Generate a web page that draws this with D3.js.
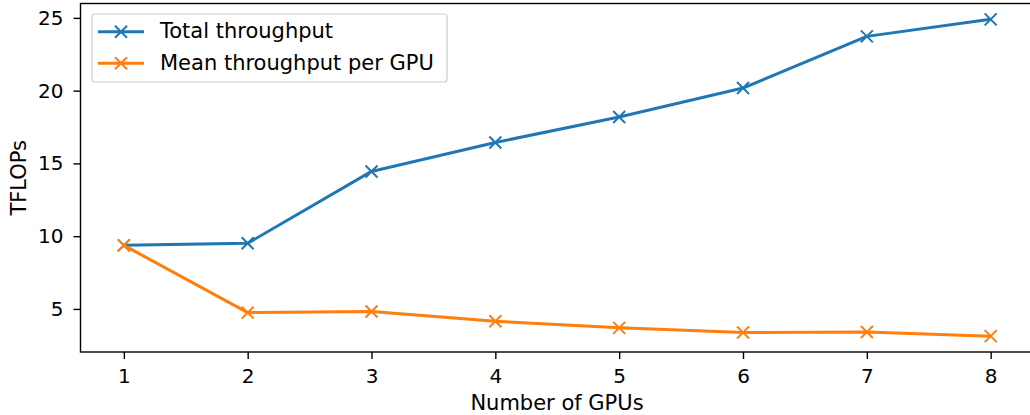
<!DOCTYPE html>
<html lang="en">
<head>
    <meta charset="UTF-8">
    <title>GPU throughput</title>
    <script src="https://d3js.org/d3.v7.min.js"></script>
    <style>
        body { margin: 0; background: white; }
        svg text { font-family: "DejaVu Sans"; font-size: 21px; fill: #000; }
        .axis text { font-size: 20px; }
        .axis path, .axis line { stroke: #000; stroke-width: 1.4; }
        .line { fill: none; stroke-width: 3; stroke-linejoin: round; }
        .marker { stroke-width: 2; }
    </style>
</head>
<body>
    <svg width="1030" height="415"></svg>
    <script>
        const gpus = [1, 2, 3, 4, 5, 6, 7, 8];
        const totalThroughput = [9.37, 9.51, 14.45, 16.44, 18.19, 20.18, 23.73, 24.9];
        const meanThroughput = [9.37, 4.75, 4.82, 4.15, 3.70, 3.38, 3.42, 3.13];
        const seriesNames = ["Total throughput", "Mean throughput per GPU"];
        const colors = ["#1f77b4", "#ff7f0e"];
        const yTicks = [5, 10, 15, 20, 25];

        const plot = {left: 80.5, right: 1034, top: 3.5, bottom: 352};

        const svg = d3.select("svg");

        // matplotlib-like 5% margins
        const xPad = (d3.max(gpus) - d3.min(gpus)) * 0.05;
        const allY = totalThroughput.concat(meanThroughput);
        const yPad = (d3.max(allY) - d3.min(allY)) * 0.05;

        const x = d3.scaleLinear()
            .domain([d3.min(gpus) - xPad, d3.max(gpus) + xPad])
            .range([plot.left, plot.right]);

        const y = d3.scaleLinear()
            .domain([d3.min(allY) - yPad, d3.max(allY) + yPad])
            .range([plot.bottom, plot.top]);

        svg.append("g")
            .attr("class", "axis")
            .attr("transform", `translate(0,${plot.bottom})`)
            .call(d3.axisBottom(x).tickValues(gpus).tickFormat(d3.format("d")).tickSizeOuter(0).tickSize(7))
            .call(g => g.select(".domain").remove())
            .call(g => g.selectAll(".tick text").attr("y", 31).attr("dy", 0));

        svg.append("g")
            .attr("class", "axis")
            .attr("transform", `translate(${plot.left},0)`)
            .call(d3.axisLeft(y).tickValues(yTicks).tickSizeOuter(0).tickSize(7).tickPadding(10))
            .call(g => g.select(".domain").remove());

        // frame
        svg.append("rect")
            .attr("x", plot.left)
            .attr("y", plot.top)
            .attr("width", plot.right - plot.left)
            .attr("height", plot.bottom - plot.top)
            .attr("fill", "none")
            .attr("stroke", "#000")
            .attr("stroke-width", 1.4);

        const series = [totalThroughput, meanThroughput];

        const line = d3.line()
            .x((d, i) => x(gpus[i]))
            .y(d => y(d));

        function drawX(g, cx, cy, color) {
            const s = 6;
            g.append("path")
                .attr("class", "marker")
                .attr("d", `M${cx - s},${cy - s}L${cx + s},${cy + s}M${cx - s},${cy + s}L${cx + s},${cy - s}`)
                .attr("stroke", color)
                .attr("fill", "none");
        }

        series.forEach((vals, k) => {
            svg.append("path")
                .datum(vals)
                .attr("class", "line")
                .attr("d", line)
                .attr("stroke", colors[k]);
            const mg = svg.append("g");
            vals.forEach((v, i) => drawX(mg, x(gpus[i]), y(v), colors[k]));
        });

        // legend
        const legend = svg.append("g");
        legend.append("rect")
            .attr("x", 92)
            .attr("y", 14)
            .attr("width", 355)
            .attr("height", 68)
            .attr("rx", 3)
            .attr("fill", "white")
            .attr("fill-opacity", 0.8)
            .attr("stroke", "#ccc")
            .attr("stroke-width", 1.2);

        seriesNames.forEach((name, k) => {
            const ly = 31.7 + k * 31.6;
            legend.append("line")
                .attr("x1", 98).attr("x2", 144)
                .attr("y1", ly).attr("y2", ly)
                .attr("stroke", colors[k])
                .attr("stroke-width", 3);
            drawX(legend, 121, ly, colors[k]);
            legend.append("text")
                .attr("x", 160)
                .attr("y", ly + 6.6)
                .text(name);
        });

        svg.append("text")
            .attr("x", 557)
            .attr("y", 410)
            .attr("text-anchor", "middle")
            .text("Number of GPUs");

        svg.append("text")
            .attr("transform", `translate(26,${(plot.top + plot.bottom) / 2}) rotate(-90)`)
            .attr("text-anchor", "middle")
            .text("TFLOPs");
    </script>
</body>
</html>
